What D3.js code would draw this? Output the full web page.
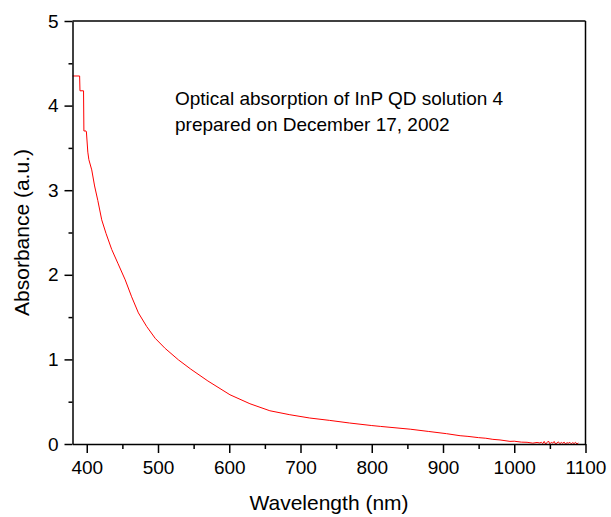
<!DOCTYPE html>
<html>
<head>
<meta charset="utf-8">
<script src="https://cdn.jsdelivr.net/npm/d3@7"></script>
<style>
	body {margin: 0; background: #fff;}
	text {font-family: Arial, "Liberation Sans", sans-serif; fill: #000;}
	.axis path, .axis line {stroke: #000; stroke-width: 1.5;}
</style>
</head>
<body>
<div id="chart"></div>
<script>
var wavelength = [380, 390, 390.5, 395.5, 396, 399, 399.5, 401.5, 403, 407, 411, 415.5, 421,
	427, 435, 444, 454, 463, 472.5, 484, 496, 510, 528.6, 546, 570, 601, 629, 657, 685, 713, 741, 769, 800, 812,
	854, 880, 905, 924, 935, 950, 960, 970, 980, 994, 1000, 1010, 1018, 1026, 1032, 1036,
	1038, 1040, 1042, 1044, 1046, 1048, 1050, 1052, 1054, 1056, 1058, 1060, 1062, 1064, 1066,
	1068, 1070, 1072, 1074, 1076, 1078, 1080, 1082, 1084, 1086, 1088, 1090];
var absorbance = [4.35, 4.35, 4.175, 4.175, 3.70, 3.70, 3.69, 3.45, 3.36, 3.24, 3.05, 2.88, 2.65,
	2.49, 2.30, 2.13, 1.94, 1.74, 1.55, 1.39, 1.25, 1.13, 0.995, 0.885, 0.745, 0.582, 0.476, 0.393, 0.346, 0.307, 0.279, 0.248, 0.218, 0.208,
	0.175, 0.148, 0.122, 0.098, 0.09, 0.075, 0.068, 0.055, 0.048, 0.031, 0.033, 0.022, 0.02, 0.01, 0.018, 0.012,
	0.02, 0.005, 0.03, 0.0, 0.015, 0.035, 0.002, 0.02, 0.01, 0.03, 0.0, 0.012, 0.025, 0.003, 0.018,
	0.008, 0.022, 0.0, 0.015, 0.01, 0.02, 0.002, 0.016, 0.005, 0.02, 0.0, 0.012];
var xTicks = [400, 500, 600, 700, 800, 900, 1000, 1100];
var xMinor = [450, 550, 650, 750, 850, 950, 1050];
var yTicks = [0, 1, 2, 3, 4, 5];
var yMinor = [0.5, 1.5, 2.5, 3.5, 4.5];
var noteLines = ["Optical absorption of InP QD solution 4", "prepared on December 17, 2002"];

var width = 611, height = 517;
var margin = {left: 72.5, right: 25.5, top: 21, bottom: 73};

var svg = d3.select("div#chart").append("svg")
	.attr("width", width)
	.attr("height", height);

var x = d3.scaleLinear().domain([380, 1100]).range([margin.left, width - margin.right]);
var y = d3.scaleLinear().domain([0, 5]).range([height - margin.bottom, margin.top]);

var points = wavelength.map((w, i) => [w, absorbance[i]]);

// curve
svg.append("path")
	.datum(points)
	.attr("fill", "none")
	.attr("stroke", "#ff0000")
	.attr("stroke-width", 1)
	.attr("d", d3.line().x(d => x(d[0])).y(d => y(d[1])));

// frame: top and right have no ticks
svg.append("line")
	.attr("x1", x(380)).attr("x2", x(1100))
	.attr("y1", y(5)).attr("y2", y(5))
	.attr("stroke", "#000").attr("stroke-width", 1.5);
svg.append("line")
	.attr("x1", x(1100)).attr("x2", x(1100))
	.attr("y1", y(5)).attr("y2", y(0))
	.attr("stroke", "#000").attr("stroke-width", 1.5);

// minor ticks first, then major axes
svg.append("g")
	.attr("class", "axis")
	.attr("transform", "translate(0," + y(0) + ")")
	.call(d3.axisBottom(x).tickValues(xMinor).tickSize(5).tickFormat(""))
	.select(".domain").remove();
svg.append("g")
	.attr("class", "axis")
	.attr("transform", "translate(" + x(380) + ",0)")
	.call(d3.axisLeft(y).tickValues(yMinor).tickSize(4).tickFormat(""))
	.select(".domain").remove();

var xAxis = svg.append("g")
	.attr("class", "axis")
	.attr("transform", "translate(0," + y(0) + ")")
	.call(d3.axisBottom(x).tickValues(xTicks).tickSize(9).tickSizeOuter(0).tickPadding(8).tickFormat(d3.format("d")));
xAxis.selectAll("text").style("font-size", "19px");

var yAxis = svg.append("g")
	.attr("class", "axis")
	.attr("transform", "translate(" + x(380) + ",0)")
	.call(d3.axisLeft(y).tickValues(yTicks).tickSize(8).tickSizeOuter(0).tickPadding(6).tickFormat(d3.format("d")));
yAxis.selectAll("text").style("font-size", "19px");

// axis titles
svg.append("text")
	.attr("x", (x(380) + x(1100)) / 2)
	.attr("y", 510)
	.attr("text-anchor", "middle")
	.style("font-size", "21px")
	.text("Wavelength (nm)");

svg.append("text")
	.attr("transform", "translate(29," + (y(2.5)) + ") rotate(-90)")
	.attr("text-anchor", "middle")
	.style("font-size", "21px")
	.text("Absorbance (a.u.)");

// annotation
svg.append("g")
	.selectAll("text")
	.data(noteLines)
	.enter()
	.append("text")
	.attr("x", 175)
	.attr("y", (d, i) => 105 + i * 26)
	.style("font-size", "19px")
	.text(d => d);
</script>
</body>
</html>
